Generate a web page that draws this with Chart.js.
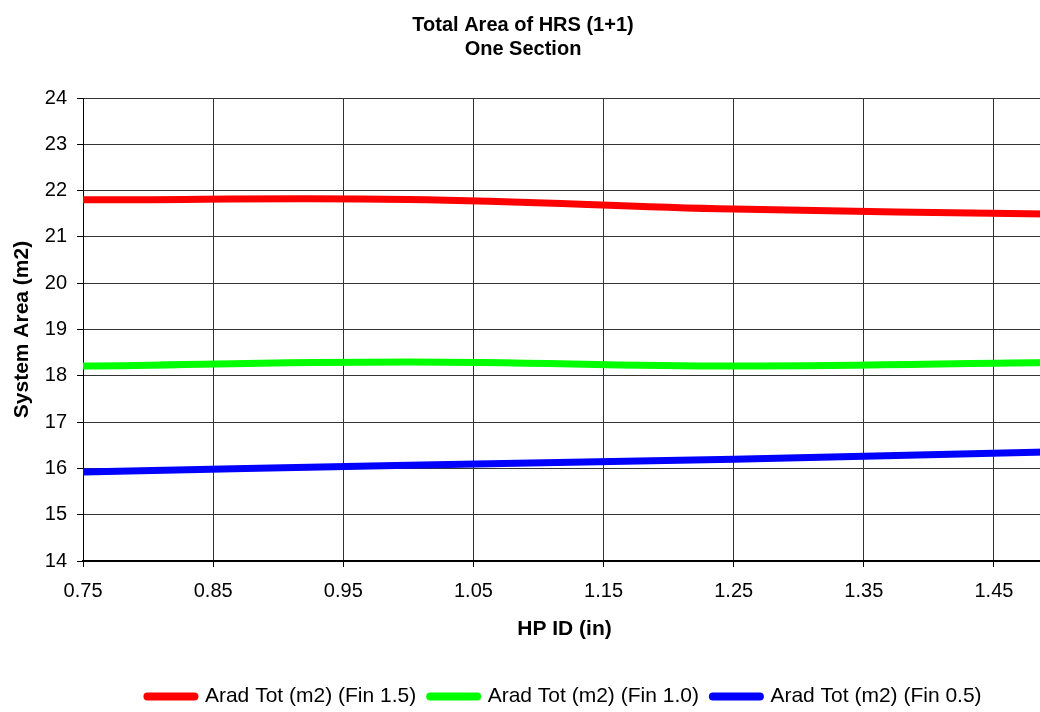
<!DOCTYPE html>
<html>
<head>
<meta charset="utf-8">
<title>Total Area of HRS (1+1)</title>
<script src="https://cdn.jsdelivr.net/npm/chart.js@4/dist/chart.umd.min.js"></script>
<style>
  html, body { margin: 0; padding: 0; background: #fff; overflow: hidden; }
  #wrap { width: 1080px; height: 717px; }
  canvas { display: block; }
</style>
</head>
<body>
<div id="wrap"><canvas id="chart" width="1080" height="717"></canvas></div>
<script>
// Heat pipe inner diameter (in)
const hpId = [0.75, 1.0, 1.25, 1.5];

// Total radiator area (m2) for each fin size
const aradFin15 = [21.80, 21.81, 21.60, 21.49];
const aradFin10 = [18.21, 18.30, 18.21, 18.29];
const aradFin05 = [15.92, 16.07, 16.20, 16.36];

const seriesNames = ['Arad Tot (m2) (Fin 1.5)', 'Arad Tot (m2) (Fin 1.0)', 'Arad Tot (m2) (Fin 0.5)'];
const seriesColors = ['#ff0000', '#00ff00', '#0000ff'];

// Axis tick labels
const xTicks = [0.75, 0.85, 0.95, 1.05, 1.15, 1.25, 1.35, 1.45];
const yTicks = [14, 15, 16, 17, 18, 19, 20, 21, 22, 23, 24];

const FONT = '"Liberation Sans", Arial, Helvetica, sans-serif';
Chart.defaults.font.family = FONT;
Chart.defaults.color = '#000';

const toPoints = ys => ys.map((y, i) => ({ x: hpId[i], y }));

const datasets = [aradFin15, aradFin10, aradFin05].map((vals, i) => ({
  label: seriesNames[i],
  data: toPoints(vals),
  borderColor: seriesColors[i],
  backgroundColor: seriesColors[i],
  borderWidth: 7,
  pointRadius: 0,
  pointHoverRadius: 0,
  tension: 0.4,
  fill: false
}));

const gridColor = '#333';

new Chart(document.getElementById('chart'), {
  type: 'line',
  data: { datasets },
  options: {
    responsive: false,
    animation: false,
    devicePixelRatio: 1,
    layout: { padding: { left: 0, right: 34, top: 0, bottom: 0 } },
    plugins: {
      tooltip: { enabled: false },
      title: {
        display: true,
        text: ['Total Area of HRS (1+1)', 'One Section'],
        color: '#000',
        font: { family: FONT, size: 20, weight: 'bold', lineHeight: 1.2 },
        padding: { top: 13, bottom: 37 }
      },
      legend: {
        position: 'bottom',
        fullSize: false,
        labels: {
          color: '#000',
          font: { family: FONT, size: 21 },
          usePointStyle: true,
          pointStyle: 'line',
          pointStyleWidth: 47,
          padding: 14,
          generateLabels(chart) {
            return Chart.defaults.plugins.legend.labels.generateLabels(chart)
              .map(item => Object.assign(item, { lineCap: 'round', lineWidth: 8 }));
          }
        }
      }
    },
    scales: {
      x: {
        type: 'linear',
        min: 0.75,
        max: 1.49,
        afterBuildTicks(axis) {
          axis.ticks = xTicks.map(value => ({ value }));
        },
        ticks: {
          color: '#000',
          font: { family: FONT, size: 20 },
          padding: 12,
          maxRotation: 0,
          autoSkip: false,
          callback: v => Number(v).toFixed(2)
        },
        grid: { color: gridColor, lineWidth: 1, tickLength: 6, tickColor: '#000' },
        border: { color: '#000', width: 2 },
        title: {
          display: true,
          text: 'HP ID (in)',
          color: '#000',
          font: { family: FONT, size: 21, weight: 'bold', lineHeight: 1.2 },
          padding: { top: 1.4, bottom: 30.4 }
        }
      },
      y: {
        type: 'linear',
        min: yTicks[0],
        max: yTicks[yTicks.length - 1],
        afterBuildTicks(axis) {
          axis.ticks = yTicks.map(value => ({ value }));
        },
        ticks: {
          color: '#000',
          font: { family: FONT, size: 20 },
          padding: 10
        },
        grid: { color: gridColor, lineWidth: 1, tickLength: 6, tickColor: '#000' },
        border: { color: '#000', width: 1 },
        title: {
          display: true,
          text: 'System Area (m2)',
          color: '#000',
          font: { family: FONT, size: 21, weight: 'bold', lineHeight: 1.2 },
          padding: { top: 9.6, bottom: 0 }
        }
      }
    }
  }
});
</script>
</body>
</html>
